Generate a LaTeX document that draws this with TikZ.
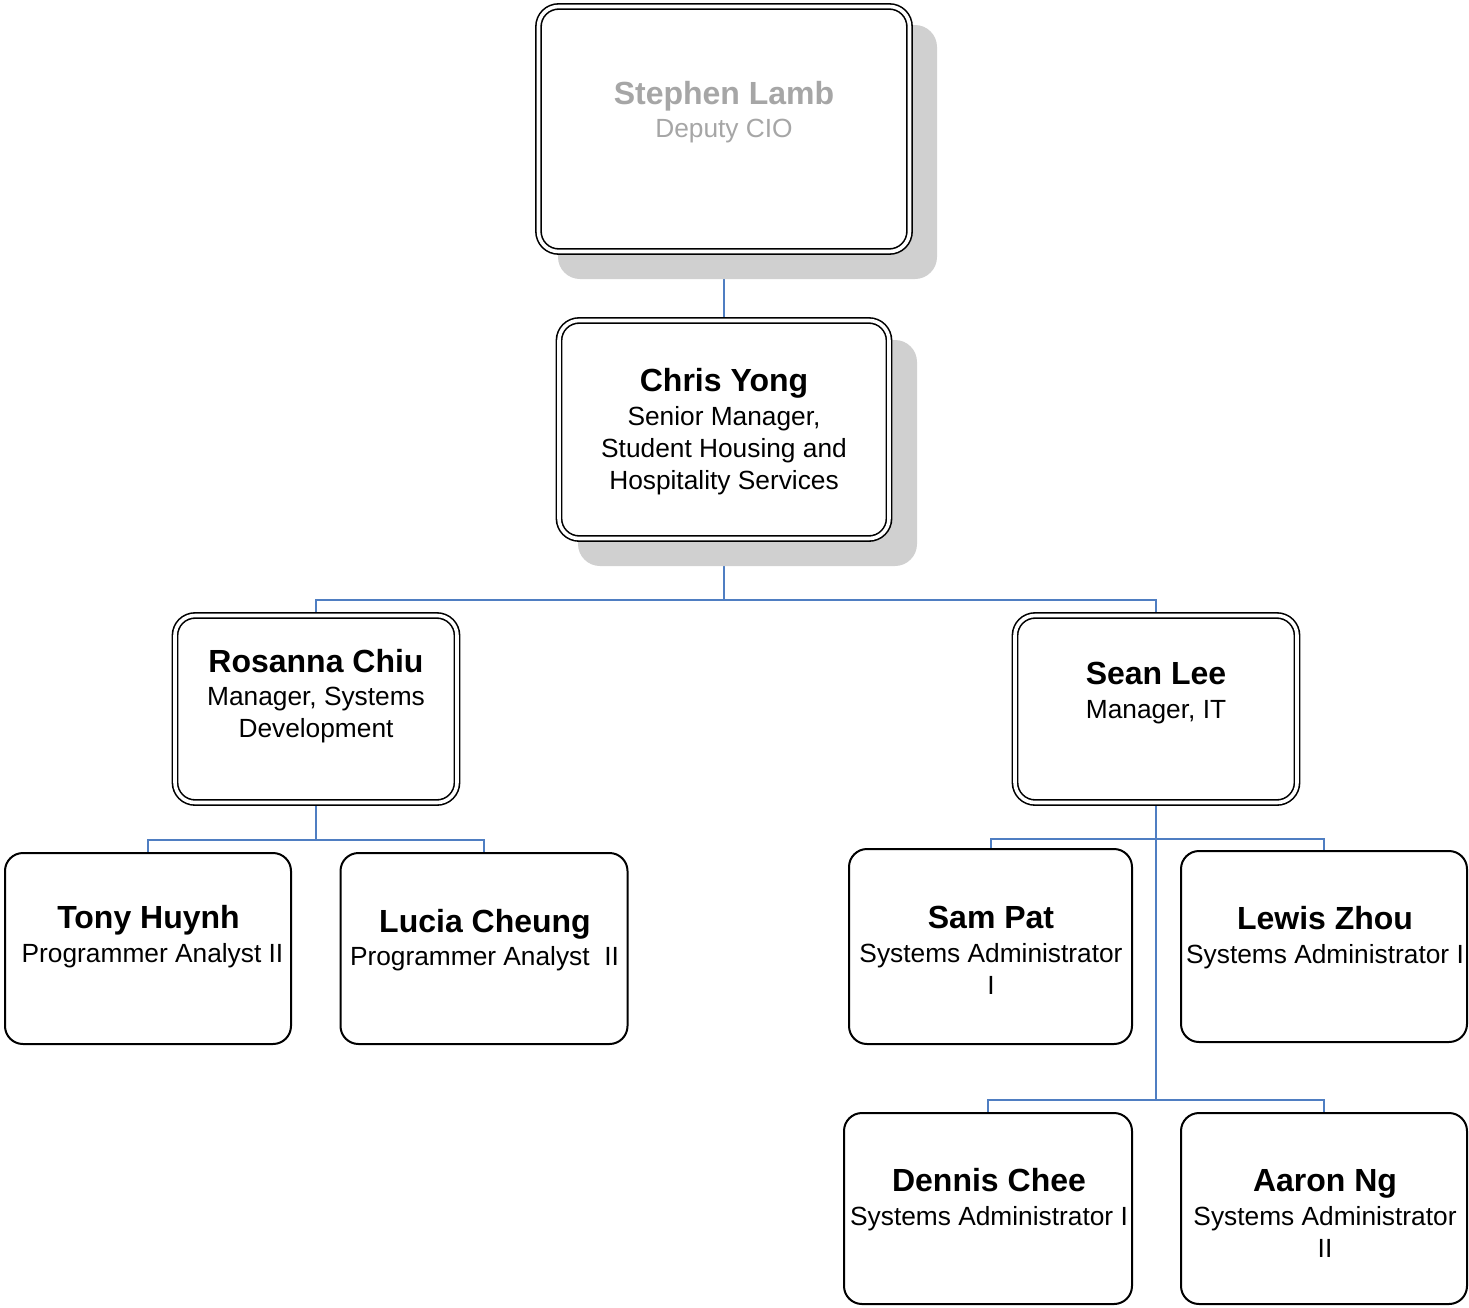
\documentclass[tikz,border=0pt]{standalone}
\usepackage{fontspec}
\setmainfont{Liberation Sans}
\definecolor{connc}{HTML}{4F7EC2}
\definecolor{shade}{HTML}{D0D0D0}
\definecolor{dimtext}{HTML}{A6A6A6}
\pgfdeclarelayer{back}
\pgfdeclarelayer{mid}
\pgfsetlayers{back,mid,main}
\tikzset{
  box/.style={rectangle, draw=black, line width=2pt, rounded corners=18pt, fill=white, inner sep=0pt},
  dbox/.style={rectangle, draw=black, fill=white, line width=1.6pt, double=white, double distance=3.6pt, rounded corners=20pt, inner sep=0pt},
  shadowbox/.style={rectangle, fill=shade, draw=none, rounded corners=22pt, inner sep=0pt},
  link/.style={draw=connc, line width=2pt},
  pname/.style={font=\bfseries\fontsize{32}{36}\selectfont, anchor=base, inner sep=0pt},
  prole/.style={font=\fontsize{26.3}{32}\selectfont, anchor=base, inner sep=0pt}
}
\begin{document}
\begin{tikzpicture}[x=1pt,y=-1pt]
\useasboundingbox (0,0) rectangle (1469,1307);
% shadows
\begin{pgfonlayer}{mid}
\node[shadowbox, minimum width=379pt, minimum height=254pt] (stephen-sh) at (747.5,152) {};
\node[shadowbox, minimum width=339pt, minimum height=226pt] (chris-sh) at (747.5,453) {};
\end{pgfonlayer}
% boxes
\node[dbox, minimum width=371pt, minimum height=245pt] (stephen) at (724,129) {};
\node[dbox, minimum width=330pt, minimum height=218pt] (chris) at (724,429.5) {};
\node[dbox, minimum width=282pt, minimum height=187pt] (rosanna) at (316,709) {};
\node[dbox, minimum width=282pt, minimum height=187pt] (sean) at (1156,709) {};
\node[box, minimum width=286pt, minimum height=191pt] (tony) at (148,948.5) {};
\node[box, minimum width=287pt, minimum height=191pt] (lucia) at (484,948.5) {};
\node[box, minimum width=283pt, minimum height=195pt] (sam) at (990.5,946.5) {};
\node[box, minimum width=286pt, minimum height=191pt] (lewis) at (1324,946.5) {};
\node[box, minimum width=288pt, minimum height=191pt] (dennis) at (988,1208.5) {};
\node[box, minimum width=286pt, minimum height=191pt] (aaron) at (1324,1208.5) {};
% texts
\node[pname, text=dimtext] (stephen-n) at (724,104) {Stephen Lamb};
\node[prole, text=dimtext] (stephen-r) at (724,137) {Deputy CIO};
\node[pname] (chris-n) at (724,391) {Chris Yong};
\node[prole] (chris-r1) at (724,425) {Senior Manager,};
\node[prole] (chris-r2) at (724,457) {Student Housing and};
\node[prole] (chris-r3) at (724,489) {Hospitality Services};
\node[pname] (rosanna-n) at (316,672) {Rosanna Chiu};
\node[prole] (rosanna-r1) at (316,705) {Manager, Systems};
\node[prole] (rosanna-r2) at (316,737) {Development};
\node[pname] (sean-n) at (1156,684) {Sean Lee};
\node[prole] (sean-r) at (1156,718) {Manager, IT};
\node[pname] (tony-n) at (148.5,928) {Tony Huynh};
\node[prole] (tony-r) at (152.5,962) {Programmer Analyst II};
\node[pname] (lucia-n) at (485,932) {Lucia Cheung};
\node[prole] (lucia-r) at (484.5,965) {Programmer Analyst\ \ II};
\node[pname] (sam-n) at (991,928) {Sam Pat};
\node[prole] (sam-r1) at (991,962) {Systems Administrator};
\node[prole] (sam-r2) at (991,994) {I};
\node[pname] (lewis-n) at (1325,929) {Lewis Zhou};
\node[prole] (lewis-r) at (1325,963) {Systems Administrator I};
\node[pname] (dennis-n) at (989,1191) {Dennis Chee};
\node[prole] (dennis-r) at (989,1225) {Systems Administrator I};
\node[pname] (aaron-n) at (1325,1191) {Aaron Ng};
\node[prole] (aaron-r1) at (1325,1225) {Systems Administrator};
\node[prole] (aaron-r2) at (1325,1257) {II};
% connectors
\coordinate (j1) at (724,600);
\coordinate (j2) at (316,840);
\coordinate (j3) at (1156,839);
\coordinate (j4) at (1156,1100);
\begin{pgfonlayer}{back}
\draw[link] (stephen.south) -- (chris.north);
\draw[link] (chris.south) -- (j1);
\draw[link] (j1) -| (rosanna.north);
\draw[link] (j1) -| (sean.north);
\draw[link] (rosanna.south) -- (j2);
\draw[link] (j2) -| (tony.north);
\draw[link] (j2) -| (lucia.north);
\draw[link] (sean.south) -- (j4);
\draw[link] (j3) -| (sam.north);
\draw[link] (j3) -| (lewis.north);
\draw[link] (j4) -| (dennis.north);
\draw[link] (j4) -| (aaron.north);
\end{pgfonlayer}
\end{tikzpicture}
\end{document}
